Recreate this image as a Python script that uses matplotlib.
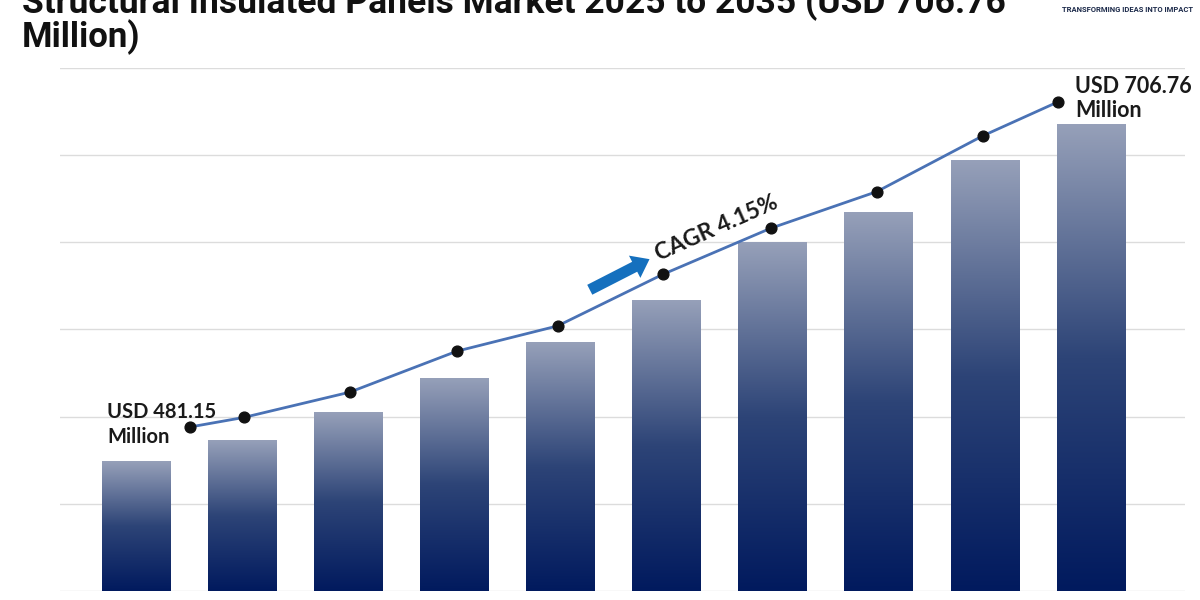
import numpy as np
import matplotlib
matplotlib.use("Agg")
import matplotlib.pyplot as plt
from matplotlib.colors import LinearSegmentedColormap

# ------------------------------------------------------
# Data (values in gridline units)
# ------------------------------------------------------
years = ["2025", "2026", "2027", "2028", "2029", "2030", "2031", "2032", "2033", "2034"]
bar_values = [1.49, 1.73, 2.05, 2.44, 2.85, 3.33, 4.00, 4.34, 4.94, 5.35]

line_x = [0.50, 1.01, 2.01, 3.02, 3.97, 4.96, 5.98, 6.98, 7.98, 8.69]
line_values = [1.88, 1.99, 2.28, 2.75, 3.04, 3.63, 4.16, 4.58, 5.22, 5.61]

start_label = "USD 481.15\nMillion"
end_label = "USD 706.76\nMillion"
cagr_label = "CAGR 4.15%"
title_line1 = "Structural Insulated Panels Market 2025 to 2035 (USD 706.76"
title_line2 = "Million)"

# ------------------------------------------------------
# Figure
# ------------------------------------------------------
fig = plt.figure(figsize=(12, 6), dpi=100)
ax = fig.add_axes([0.05, 0.015, 0.9375, 0.872])

cmap = LinearSegmentedColormap.from_list("bar", ["#011a5e", "#2d4477", "#96a0b9"])
grad = np.linspace(0, 1, 256).reshape(-1, 1)
width = 0.65

for i, h in enumerate(bar_values):
    ax.imshow(grad, extent=[i - width / 2, i + width / 2, 0, h],
              origin="lower", aspect="auto", cmap=cmap, zorder=2)

# gridlines
for g in range(0, 7):
    ax.axhline(g, color="#dcdcdc", lw=1, zorder=1)

# growth line
ax.plot(line_x, line_values, color="#4a72b5", lw=2, zorder=3)
ax.scatter(line_x, line_values, s=60, color="#111111", zorder=4)

# labels
ax.text(-0.28, 1.91, start_label, fontsize=14.5, fontweight="bold",
        family="Lato", color="#1a1a1a", va="center", ha="left",
        linespacing=1.3, zorder=5)
ax.text(8.85, 5.65, end_label, fontsize=15.5, fontweight="bold",
        family="Lato", color="#1a1a1a", va="center", ha="left",
        linespacing=1.15, zorder=5)

ax.annotate("", xy=(4.86, 3.82), xytext=(4.25, 3.44),
            arrowprops=dict(arrowstyle="simple,head_width=0.9,head_length=0.6,tail_width=0.4",
                            mutation_scale=20, color="#1570be", lw=0), zorder=5)
ax.text(5.47, 4.16, cagr_label, fontsize=16.5, fontweight="bold", family="Lato",
        color="#1a1a1a", rotation=24, ha="center", va="center",
        rotation_mode="anchor", zorder=5)

ax.set_xlim(-0.722, 9.886)
ax.set_ylim(0, 6)
ax.axis("off")

# title (top line partly cut off as in the source image)
fig.text(0.018, 0.978, title_line1, fontsize=25.5, fontweight="bold", family="Roboto",
         color="#111111", ha="left", va="baseline")
fig.text(0.018, 0.922, title_line2, fontsize=25, fontweight="bold", family="Roboto",
         color="#111111", ha="left", va="baseline")

# logo text (mostly cut off at the top edge)
fig.text(0.94, 1.0, "NOVA ONE", fontsize=14, fontweight="bold", family="Roboto",
         color="#1fa8d8", ha="center", va="baseline")
fig.text(0.994, 0.99, "TRANSFORMING IDEAS INTO IMPACT", fontsize=5.5, fontweight="bold",
         family="Roboto", color="#1c2a4a", ha="right", va="top")

fig.savefig("out.png", dpi=100)
plt.close(fig)
